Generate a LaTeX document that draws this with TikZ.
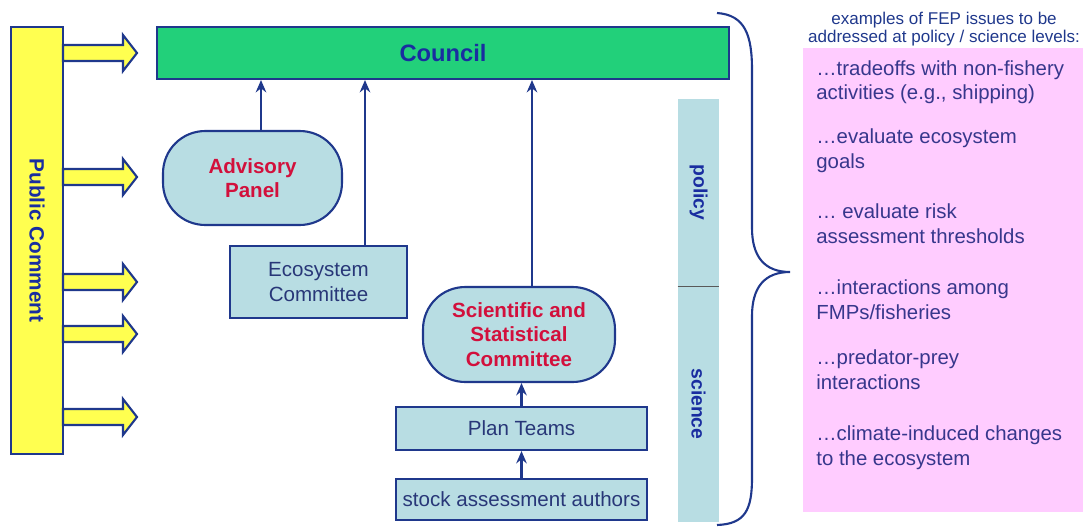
\documentclass[tikz,border=0pt]{standalone}
\usepackage{fontspec}
\setmainfont{Liberation Sans}
\usetikzlibrary{arrows.meta}

\definecolor{navy}{RGB}{31,56,140}
\definecolor{councilgreen}{RGB}{34,208,122}
\definecolor{pcyellow}{RGB}{255,255,80}
\definecolor{lblue}{RGB}{184,221,227}
\definecolor{panelred}{RGB}{210,16,60}
\definecolor{issuepink}{RGB}{255,204,255}
\definecolor{headblue}{RGB}{25,45,160}
\definecolor{boxtext}{RGB}{40,55,120}
\definecolor{itemtext}{RGB}{55,55,140}

\begin{document}
\begin{tikzpicture}[x=0.02cm, y=-0.02cm,
	box/.style={draw=navy, line width=1.2pt, fill=lblue, text=boxtext, align=center, inner sep=0pt, font=\fontsize{11.7}{14}\selectfont},
	roundbox/.style={box, rounded corners=24pt, text=panelred, font=\bfseries\fontsize{11.7}{14}\selectfont},
	side/.style={fill=lblue, inner sep=0pt, rotate=-90, text=headblue, font=\bfseries\fontsize{11}{13}\selectfont},
	link/.style={draw=navy, line width=1.2pt, -{Stealth[length=7pt,width=6pt]}},
	item/.style={anchor=base west, align=left, inner sep=0pt, text=itemtext, font=\fontsize{11.6}{14.2}\selectfont}]
	\useasboundingbox (0,0) rectangle (1085,527);
	% Public comment bar and its arrows:
	\node[draw=navy, line width=1.2pt, fill=pcyellow, rotate=-90, minimum width=8.54cm, minimum height=1.04cm, text=headblue, font=\bfseries\fontsize{11.8}{14}\selectfont] (pub) at (37,240.5) {Public Comment};
	\foreach \y in {53,177,282,334,417}
		\draw[navy, line width=1.2pt, fill=pcyellow, line join=miter] (63,\y-8) -- (123,\y-8) -- (123,\y-18) -- (137,\y) -- (123,\y+18) -- (123,\y+8) -- (63,\y+8) -- cycle;
	% Council and committees:
	\node[draw=navy, line width=1.2pt, fill=councilgreen, minimum width=11.44cm, minimum height=1.04cm, text=headblue, font=\bfseries\fontsize{13.5}{16}\selectfont] (council) at (443,53) {Council};
	\node[roundbox, minimum width=3.58cm, minimum height=1.88cm] (adv) at (252.5,178) {Advisory\\Panel};
	\node[box, minimum width=3.54cm, minimum height=1.44cm] (eco) at (318.5,282) {Ecosystem\\Committee};
	\node[roundbox, minimum width=3.84cm, minimum height=1.9cm] (ssc) at (519,334.5) {Scientific and\\Statistical\\Committee};
	\node[box, minimum width=5.02cm, minimum height=0.86cm] (plan) at (521.5,428.5) {Plan Teams};
	\node[box, minimum width=5.02cm, minimum height=0.82cm] (stock) at (521.5,499.5) {stock assessment authors};
	\draw[link] ([xshift=0.17cm]adv.north) -- ([xshift=0.17cm]adv.north |- council.south);
	\draw[link] ([xshift=0.93cm]eco.north) -- ([xshift=0.93cm]eco.north |- council.south);
	\draw[link] ([xshift=0.26cm]ssc.north) -- ([xshift=0.26cm]ssc.north |- council.south);
	\draw[link] (plan.north) -- (plan.north |- ssc.south);
	\draw[link] (stock.north) -- (plan.south);
	% Policy / science levels:
	\node[side, minimum width=3.74cm, minimum height=0.82cm] (policy) at (698.5,192.5) {policy};
	\node[side, minimum width=4.72cm, minimum height=0.82cm] (science) at (698.5,404) {science};
	\draw[gray!70!black, line width=0.4pt] (policy.south east) -- (policy.north east);
	\draw[navy, line width=1.2pt] (717,13) .. controls (745,15) and (752,35) .. (752,70) -- (752,228) .. controls (752,256) and (764,272) .. (790,272) .. controls (764,272) and (752,288) .. (752,316) -- (752,478) .. controls (752,510) and (745,524) .. (717,525);
	% FEP issues:
	\node[text=navy, align=center, inner sep=0pt, font=\fontsize{9.7}{10.3}\selectfont] (head) at (944,29) {examples of FEP issues to be\\addressed at policy / science levels:};
	\fill[issuepink] (803,48) rectangle (1083,512);
	\node[item] (tradeoffs) at (816,100) {\dots tradeoffs with non-fishery\\activities (e.g., shipping)};
	\node[item] (goals) at (816,168) {\dots evaluate ecosystem\\goals};
	\node[item] (risk) at (816,243) {\dots\ evaluate risk\\assessment thresholds};
	\node[item] (fmps) at (816,319) {\dots interactions among\\FMPs/fisheries};
	\node[item] (prey) at (816,389) {\dots predator-prey\\interactions};
	\node[item] (climate) at (816,465) {\dots climate-induced changes\\to the ecosystem};
\end{tikzpicture}
\end{document}
